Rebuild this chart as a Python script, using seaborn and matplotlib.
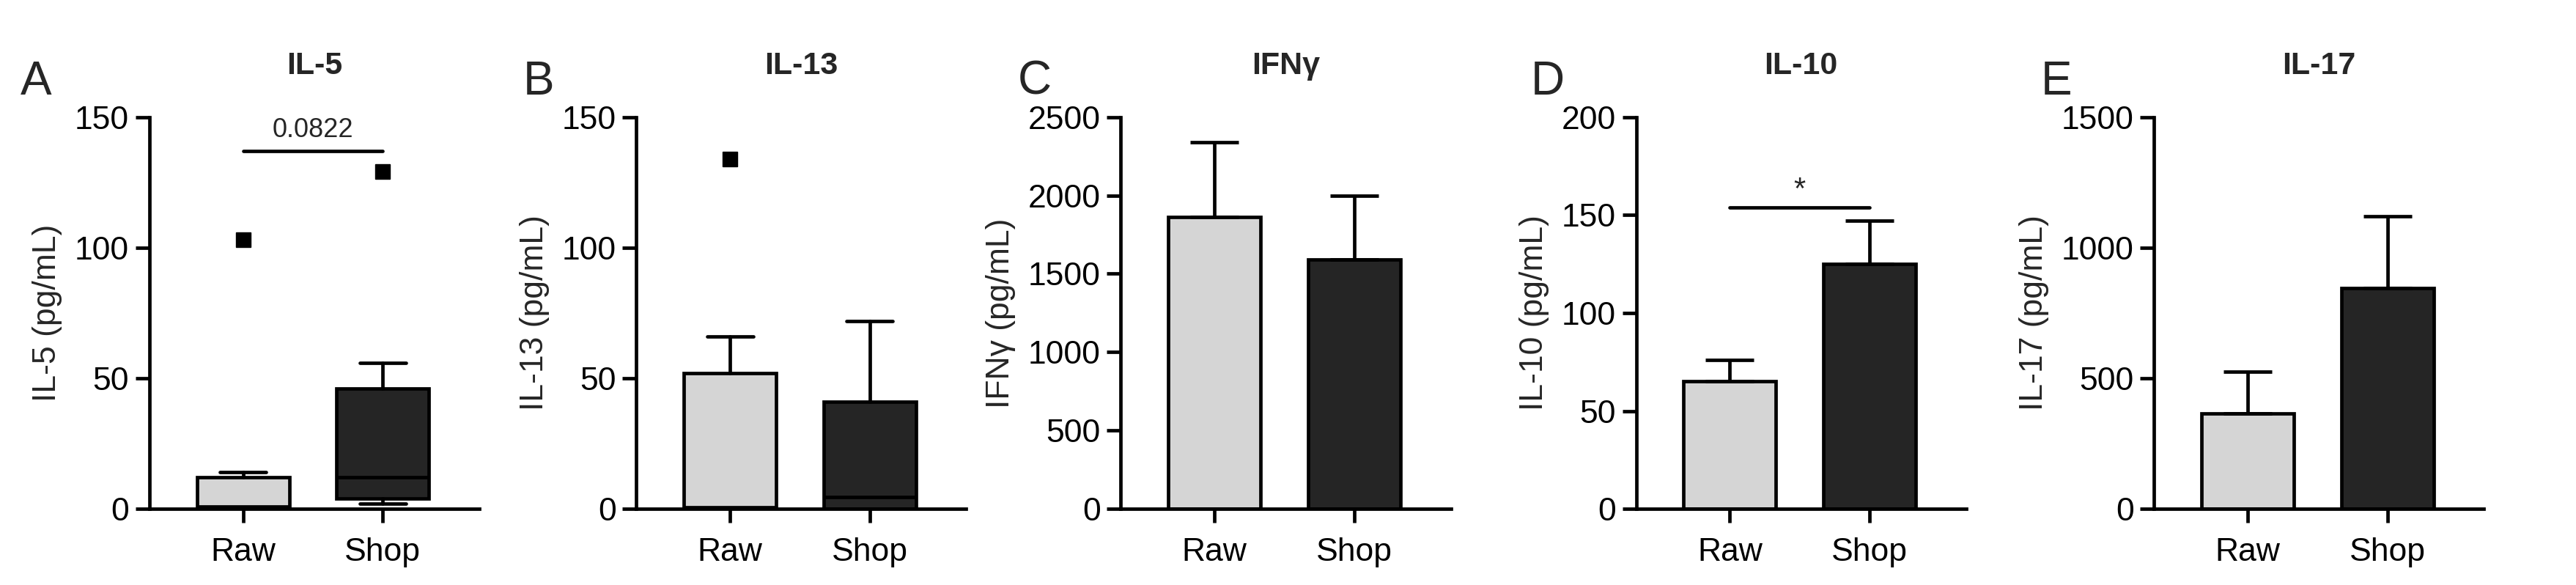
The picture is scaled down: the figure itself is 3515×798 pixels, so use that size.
import matplotlib
matplotlib.use("Agg")
import matplotlib.pyplot as plt
import seaborn as sns
import pandas as pd

sns.set_theme(style="ticks")
plt.rcParams['font.family'] = ['Liberation Sans', 'DejaVu Sans']

groups = ["Raw", "Shop"]
colors = ["#d5d5d5", "#252525"]
letters = ["A", "B", "C", "D", "E"]
titles = ["IL-5", "IL-13", "IFNγ", "IL-10", "IL-17"]
ylabels = ["IL-5 (pg/mL)", "IL-13 (pg/mL)", "IFNγ (pg/mL)", "IL-10 (pg/mL)", "IL-17 (pg/mL)"]
ymax = [150, 150, 2500, 200, 1500]
ystep = [50, 50, 500, 50, 500]

# box panels (A, B): q1, median, q3, whisker low, whisker high, outliers
il5_box = dict(q1=[0.5, 4], med=[1, 12], q3=[12, 46], wlo=[0, 2], whi=[14, 56], fliers=[[103], [129]])
il13_box = dict(q1=[0.3, 0], med=[0.5, 4.5], q3=[52, 41], wlo=[0, 0], whi=[66, 72], fliers=[[134], []])

# bar panels (C, D, E): mean and mean+SEM
ifng_mean = [1860, 1590]; ifng_top = [2340, 2000]
il10_mean = [65, 125]; il10_top = [76, 147]
il17_mean = [365, 845]; il17_top = [525, 1120]

fig = plt.figure(figsize=(35.16, 7.98), dpi=100)
lefts = [0.058, 0.247, 0.435, 0.635, 0.836]
width = 0.128
axes = [fig.add_axes([l, 0.13, width, 0.67]) for l in lefts]
LW = 3.4
letter_x = [0.008, 0.203, 0.395, 0.594, 0.792]

def style(ax, i):
    ax.set_xlim(-0.67, 1.69)
    ax.set_ylim(0, ymax[i])
    ax.set_yticks(range(0, ymax[i] + 1, ystep[i]))
    ax.set_xticks([0, 1])
    ax.set_xticklabels(groups)
    sns.despine(ax=ax)
    for s in ["left", "bottom"]:
        ax.spines[s].set_linewidth(LW)
        ax.spines[s].set_color("black")
    ax.tick_params(width=LW, length=14, labelsize=32, colors="black", pad=6)
    ax.tick_params(axis="x", pad=14)
    ax.set_ylabel(ylabels[i], fontsize=32, labelpad=12)
    ax.set_xlabel("")
    ax.set_title(titles[i], fontsize=31, fontweight="bold", pad=42)
    fig.text(letter_x[i], 0.86, letters[i], fontsize=46, va="center")

for i, box in enumerate([il5_box, il13_box]):
    ax = axes[i]
    stats = []
    for k in range(2):
        stats.append(dict(q1=box["q1"][k], med=box["med"][k], q3=box["q3"][k],
                          whislo=box["wlo"][k], whishi=box["whi"][k], fliers=box["fliers"][k]))
    bp = ax.bxp(stats, positions=[0, 1], widths=0.66, patch_artist=True, showcaps=True,
                boxprops=dict(linewidth=LW, edgecolor="black"),
                medianprops=dict(color="black", linewidth=LW),
                whiskerprops=dict(linewidth=LW), capprops=dict(linewidth=LW),
                capwidths=0.33,
                flierprops=dict(marker="s", markerfacecolor="black", markeredgecolor="black", markersize=15))
    for p, c in zip(bp["boxes"], colors):
        p.set_facecolor(c)
    style(ax, i)

for j, (m, t) in enumerate([(ifng_mean, ifng_top), (il10_mean, il10_top), (il17_mean, il17_top)]):
    i = j + 2
    ax = axes[i]
    df = pd.DataFrame({"g": groups, "v": m})
    sns.barplot(data=df, x="g", y="v", hue="g", palette=colors, width=0.66, ax=ax,
                edgecolor="black", linewidth=LW, legend=False, errorbar=None)
    err = [t[k] - m[k] for k in range(2)]
    ax.errorbar([0, 1], m, yerr=[[0, 0], err], fmt="none", ecolor="black", elinewidth=LW,
                capsize=24, capthick=LW, zorder=1)
    style(ax, i)

# significance annotations
axes[0].plot([0, 1], [137, 137], color="black", lw=LW, clip_on=False)
axes[0].text(0.5, 140, "0.0822", ha="center", va="bottom", fontsize=26)
axes[3].plot([0, 1], [154, 154], color="black", lw=LW)
axes[3].text(0.5, 155, "*", ha="center", va="bottom", fontsize=30)

fig.savefig("out.png", dpi=100)
